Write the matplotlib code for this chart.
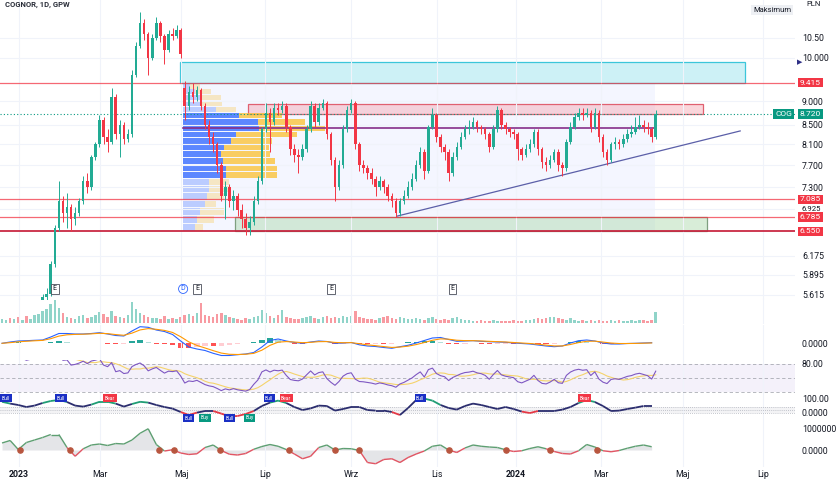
import numpy as np
import pandas as pd
import matplotlib
matplotlib.use("Agg")
import matplotlib.pyplot as plt
from matplotlib import transforms
from matplotlib.collections import LineCollection
from matplotlib.colors import to_rgba
from matplotlib.patches import Rectangle
from matplotlib.ticker import NullLocator

# ---------------- data (one bar ~ two sessions) ----------------
opens = [
    5.10, 5.15, 5.20, 5.18, 5.25, 5.22, 5.30, 5.28, 5.35, 5.40,
    5.45, 5.58, 5.62, 6.05, 6.60, 7.05, 6.85, 6.95, 6.75, 6.85,
    7.05, 7.40, 7.30, 7.85, 8.10, 8.60, 8.25, 8.15, 9.10, 8.30,
    8.50, 8.20, 8.30, 9.60, 10.30, 10.90, 10.60, 10.00, 10.50, 10.90,
    10.55, 10.20, 10.60, 10.55, 10.70, 9.30, 8.90, 9.20, 9.10, 9.25,
    8.90, 8.50, 8.25, 8.10, 7.70, 7.15, 7.30, 7.05, 7.15, 6.90,
    6.75, 6.60, 6.70, 7.05, 7.40, 8.40, 8.75, 8.55, 8.85, 8.80,
    8.90, 8.45, 8.00, 7.90, 7.85, 8.00, 8.40, 8.90, 8.55, 8.85,
    8.95, 8.30, 7.80, 7.30, 7.70, 8.40, 8.80, 8.95, 8.10, 7.70,
    7.65, 7.55, 7.45, 7.30, 7.40, 7.30, 7.15, 7.05, 6.85, 7.05,
    7.15, 7.30, 7.45, 7.70, 7.95, 7.60, 8.45, 8.70, 8.25, 8.05,
    7.95, 7.55, 7.85, 8.05, 8.25, 8.40, 8.45, 8.55, 8.45, 8.40,
    8.30, 8.05, 8.40, 8.80, 8.50, 8.40, 8.35, 8.30, 8.00, 7.90,
    8.00, 8.10, 8.35, 8.00, 7.75, 7.70, 7.80, 7.95, 7.70, 7.65,
    8.15, 8.45, 8.65, 8.75, 8.70, 8.75, 8.45, 8.75, 8.25, 7.95,
    7.80, 8.10, 8.15, 8.10, 8.20, 8.30, 8.35, 8.45, 8.50, 8.45,
    8.40, 8.25,
]
closes = [
    5.15, 5.20, 5.18, 5.25, 5.22, 5.30, 5.28, 5.35, 5.40, 5.45,
    5.58, 5.62, 6.05, 6.60, 7.05, 6.85, 6.95, 6.75, 6.85, 7.05,
    7.40, 7.30, 7.85, 8.10, 8.60, 8.25, 8.15, 9.10, 8.30, 8.50,
    8.20, 8.30, 9.60, 10.30, 10.90, 10.60, 10.00, 10.50, 10.90, 10.55,
    10.20, 10.60, 10.55, 10.70, 10.10, 8.90, 9.20, 9.10, 9.25, 8.90,
    8.50, 8.25, 8.10, 7.70, 7.15, 7.30, 7.05, 7.15, 6.90, 6.75,
    6.60, 6.70, 7.05, 7.40, 8.40, 8.75, 8.55, 8.85, 8.80, 8.90,
    8.45, 8.00, 7.90, 7.85, 8.00, 8.40, 8.90, 8.55, 8.85, 8.95,
    8.30, 7.80, 7.30, 7.70, 8.40, 8.80, 8.95, 8.10, 7.70, 7.65,
    7.55, 7.45, 7.30, 7.40, 7.30, 7.15, 7.05, 6.85, 7.05, 7.15,
    7.30, 7.45, 7.70, 7.95, 7.60, 8.45, 8.70, 8.25, 8.05, 7.95,
    7.55, 7.85, 8.05, 8.25, 8.40, 8.45, 8.55, 8.45, 8.40, 8.30,
    8.05, 8.40, 8.80, 8.50, 8.40, 8.35, 8.30, 8.00, 7.90, 8.00,
    8.10, 8.35, 8.00, 7.75, 7.70, 7.80, 7.95, 7.70, 7.65, 8.15,
    8.45, 8.65, 8.75, 8.70, 8.75, 8.45, 8.75, 8.25, 7.95, 7.80,
    8.10, 8.15, 8.10, 8.20, 8.30, 8.35, 8.45, 8.50, 8.45, 8.40,
    8.25, 8.72,
]
highs = [
    5.22, 5.25, 5.26, 5.30, 5.30, 5.35, 5.36, 5.40, 5.46, 5.52,
    5.62, 5.70, 6.10, 6.65, 7.40, 7.15, 7.20, 7.00, 6.95, 7.10,
    7.50, 7.55, 7.90, 8.15, 8.70, 8.65, 8.40, 9.30, 9.15, 8.60,
    8.55, 8.40, 9.70, 10.40, 11.20, 11.00, 10.65, 10.60, 11.05, 10.95,
    10.60, 10.70, 10.75, 10.85, 10.75, 9.45, 9.35, 9.40, 9.35, 9.30,
    8.95, 8.60, 8.35, 8.15, 7.75, 7.40, 7.35, 7.25, 7.20, 7.00,
    6.85, 6.80, 7.15, 7.50, 8.45, 8.95, 8.85, 8.95, 8.95, 9.00,
    8.95, 8.50, 8.10, 8.00, 8.10, 8.50, 9.00, 8.95, 8.95, 9.05,
    9.00, 8.35, 7.85, 7.80, 8.50, 8.90, 9.05, 9.00, 8.15, 7.80,
    7.70, 7.65, 7.50, 7.50, 7.45, 7.35, 7.20, 7.10, 7.10, 7.25,
    7.40, 7.55, 7.80, 8.05, 8.00, 8.50, 8.85, 8.75, 8.30, 8.10,
    8.00, 7.95, 8.15, 8.35, 8.50, 8.60, 8.65, 8.60, 8.50, 8.45,
    8.35, 8.50, 8.90, 8.85, 8.55, 8.45, 8.40, 8.35, 8.05, 8.10,
    8.20, 8.40, 8.40, 8.05, 7.85, 7.90, 8.00, 8.00, 7.75, 8.20,
    8.55, 8.75, 8.85, 8.85, 8.85, 8.80, 8.85, 8.80, 8.30, 8.00,
    8.15, 8.25, 8.20, 8.30, 8.40, 8.50, 8.65, 8.70, 8.60, 8.55,
    8.45, 8.80,
]
lows = [
    5.05, 5.10, 5.12, 5.15, 5.18, 5.20, 5.22, 5.25, 5.32, 5.36,
    5.42, 5.52, 5.60, 6.00, 6.55, 6.70, 6.60, 6.55, 6.65, 6.80,
    7.00, 7.20, 7.25, 7.80, 8.05, 8.10, 7.95, 8.10, 8.20, 7.85,
    8.10, 8.15, 8.25, 9.55, 10.25, 10.45, 9.60, 9.95, 10.45, 10.40,
    9.85, 10.15, 10.45, 10.50, 10.00, 8.60, 8.80, 8.95, 9.00, 8.80,
    8.40, 8.10, 7.95, 7.55, 7.05, 6.75, 6.95, 6.90, 6.80, 6.60,
    6.50, 6.50, 6.65, 7.00, 7.35, 8.35, 7.95, 8.50, 8.70, 8.75,
    8.35, 7.90, 7.75, 7.55, 7.80, 7.95, 8.35, 8.45, 8.50, 8.80,
    8.20, 7.70, 7.05, 7.25, 7.65, 8.35, 8.75, 8.00, 7.60, 7.55,
    7.45, 7.35, 7.15, 7.25, 7.20, 7.05, 6.95, 6.78, 6.80, 7.00,
    7.10, 7.25, 7.40, 7.65, 7.45, 7.55, 8.40, 8.15, 7.95, 7.80,
    7.40, 7.50, 7.80, 8.00, 8.20, 8.30, 8.40, 8.35, 8.30, 8.20,
    7.95, 8.00, 8.35, 8.40, 8.30, 8.25, 8.20, 7.80, 7.80, 7.85,
    7.95, 8.05, 7.90, 7.65, 7.60, 7.65, 7.75, 7.60, 7.50, 7.60,
    8.10, 8.40, 8.60, 8.60, 8.65, 8.35, 8.40, 8.15, 7.85, 7.70,
    7.75, 8.00, 8.00, 8.05, 8.15, 8.25, 8.30, 8.40, 8.35, 8.30,
    8.15, 8.20,
]
volume = [  # thousand shares
    80, 60, 100, 80, 120, 60, 140, 80, 160, 180,
    240, 280, 380, 460, 300, 200, 120, 100, 80, 140,
    160, 100, 120, 160, 220, 180, 120, 240, 140, 120,
    100, 160, 420, 280, 200, 160, 120, 100, 100, 80,
    140, 80, 100, 80, 120, 160, 180, 140, 200, 400,
    160, 140, 120, 180, 200, 160, 120, 100, 80, 60,
    100, 80, 120, 140, 260, 200, 140, 100, 160, 260,
    120, 100, 80, 80, 100, 120, 140, 100, 80, 120,
    140, 100, 120, 100, 140, 120, 140, 240, 120, 100,
    80, 80, 60, 100, 120, 140, 100, 80, 120, 100,
    80, 80, 100, 80, 60, 100, 120, 80, 60, 80,
    60, 100, 120, 80, 60, 60, 40, 40, 60, 40,
    40, 60, 40, 40, 40, 40, 60, 40, 40, 60,
    60, 80, 100, 80, 100, 120, 120, 100, 80, 60,
    100, 60, 40, 60, 40, 60, 40, 60, 40, 40,
    60, 40, 60, 40, 40, 60, 40, 60, 60, 40,
    60, 220,
]

# oscillators sampled every second bar
macd_line = [
    0.000, 0.026, 0.046, 0.052, 0.060, 0.066, 0.126, 0.196, 0.196, 0.186,
    0.186, 0.196, 0.212, 0.186, 0.156, 0.146, 0.246, 0.332, 0.320, 0.266,
    0.236, 0.176, 0.046, -0.074, -0.114, -0.144, -0.200, -0.244, -0.244, -0.228,
    -0.214, -0.184, -0.074, 0.056, 0.086, 0.046, 0.016, 0.000, 0.026, 0.046,
    0.036, 0.000, 0.006, 0.016, -0.030, -0.054, -0.064, -0.084, -0.100, -0.068,
    -0.040, 0.006, 0.056, 0.106, 0.116, 0.076, 0.040, 0.046, 0.052, 0.040,
    0.032, 0.026, 0.020, 0.006, -0.004, -0.014, -0.034, -0.054, -0.068, -0.054,
    0.006, 0.052, 0.066, 0.046, 0.006, -0.014, -0.014, -0.004, 0.000, 0.006,
    0.012,
]
stoch = [
    81, 72, 65, 55, 62, 75, 85, 90, 80, 62,
    57, 67, 81, 81, 72, 57, 70, 81, 77, 65,
    55, 47, 30, 15, 27, 35, 35, 22, 8, 10,
    20, 35, 60, 77, 87, 75, 55, 40, 48, 62,
    60, 37, 45, 55, 55, 40, 37, 37, 30, 15,
    50, 90, 97, 87, 65, 50, 42, 60, 72, 65,
    55, 45, 55, 45, 32, 25, 35, 35, 35, 42,
    55, 75, 90, 80, 60, 35, 37, 45, 52, 60,
    60,
]
flow_mln = [
    0.28, 0.38, 0.02, 0.30, 0.40, 0.50, 0.62, 0.62, 0.10, -0.25,
    0.05, 0.20, 0.24, 0.18, 0.26, 0.24, 0.40, 0.67, 0.85, 0.22,
    -0.04, 0.01, -0.12, -0.18, -0.15, 0.10, 0.20, -0.02, -0.17, -0.20,
    -0.14, 0.03, 0.14, 0.22, 0.15, 0.02, -0.16, -0.35, -0.25, 0.10,
    0.20, 0.00, 0.06, 0.05, -0.02, -0.50, -0.55, -0.38, -0.35, -0.50,
    -0.30, -0.16, -0.04, 0.15, 0.20, 0.00, -0.10, 0.08, 0.20, 0.15,
    0.12, 0.10, 0.01, -0.06, -0.03, 0.06, 0.13, 0.05, -0.06, -0.14,
    -0.16, -0.03, 0.22, 0.12, -0.03, -0.07, -0.02, 0.07, 0.15, 0.20,
    0.13,
]
flow_cross_bars = [4.4, 16.7, 38.7, 42.4, 53.7, 70.7, 82.0, 87.9, 110.1, 124.1, 135.0, 146.6]
stoch_labels = [
    (1, 100, "Bull", "#1a2fc4"), (14.5, 100, "Bull", "#1a2fc4"), (26.6, 100, "Bear", "#f23645"),
    (46, 0, "Bull", "#1a2fc4"), (50, 0, "Buy", "#089981"), (56, 0, "Bull", "#1a2fc4"),
    (61, 0, "Buy", "#089981"), (65.8, 100, "Bull", "#1a2fc4"), (70, 100, "Bear", "#f23645"),
    (103, 100, "Bull", "#1a2fc4"), (143.4, 100, "Bear", "#f23645"),
]

# volume profile rows (bottom -> top), fixed range
vp_low, vp_high = 6.55, 9.40
vp_start_bar, vp_end_bar = 44.6, 160.8
vp_up = [12, 14, 17, 21, 23, 25, 25, 42, 42, 39, 37, 40, 47, 52, 75, 74, 55, 32, 19, 17, 12, 7]
vp_down = [8, 16, 23, 11, 17, 20, 20, 50, 50, 51, 48, 44, 40, 60, 64, 46, 42, 20, 19, 20, 15, 10]

# drawn levels / objects
red_levels = [9.415, 7.085, 6.785, 6.550]
supply_zone = (43.8, 183.0, 9.415, 9.90)
resist_zone = (60.6, 172.7, 8.72, 8.93)
demand_zone = (57.4, 173.6, 6.55, 6.785)
trend_pts = ((97.3, 6.80), (181.8, 8.37))
earnings_bars = [13, 48, 81, 111]
dividend_bars = [44.6]

price_ticks = [10.50, 10.0, 9.0, 8.5, 8.1, 7.7, 7.3, 6.925, 6.175, 5.895, 5.615]
price_tick_labels = ["10.50", "10.000", "9.000", "8.500", "8.100", "7.700", "7.300",
                     "6.925", "6.175", "5.895", "5.615"]
time_labels = ["2023", "Mar", "Maj", "Lip", "Wrz", "Lis", "2024", "Mar", "Maj", "Lip"]
time_tick_bars = [4.2, 24.1, 44.1, 64.8, 86.0, 107.1, 126.6, 147.5, 167.7, 187.4]

# ---------------- style ----------------
UP = "#22ab94"
DOWN = "#f23645"
TEXT = "#131722"
GRID = "#f0f3fa"
W, H = 840, 480
PLOT_RIGHT = 795

plt.rcParams["font.family"] = ["Roboto", "DejaVu Sans"]

fig = plt.figure(figsize=(8.4, 4.8), dpi=100)


def pane(top, bottom, share=None):
    ax = fig.add_axes([0, 1 - bottom / H, PLOT_RIGHT / W, (bottom - top) / H], sharex=share)
    ax.set_facecolor("none")
    for s in ax.spines.values():
        s.set_visible(False)
    ax.yaxis.tick_right()
    ax.tick_params(length=0, labelsize=6.3, labelcolor=TEXT, pad=5)
    ax.tick_params(axis="x", labelbottom=False)
    ax.grid(axis="x", color=GRID, lw=0.8)
    return ax


def tag(ax, y, text, fc, x_px=800):
    trans = transforms.blended_transform_factory(ax.transAxes, ax.transData)
    ax.text(x_px / PLOT_RIGHT, y, text, transform=trans, ha="left", va="center",
            fontsize=6.0, color="white", clip_on=False, zorder=10,
            bbox=dict(boxstyle="square,pad=0.2", fc=fc, ec="none"))


o = np.array(opens)
c = np.array(closes)
hi = np.array(highs)
lo = np.array(lows)
x = np.arange(len(c))
is_up = c >= o
bar_colors = np.where(is_up, UP, DOWN)
osc_x = np.arange(0, len(c), 2)

# ---------------- price pane ----------------
ax = pane(0, 300)
ax.set_yscale("log")
ax.set_xlim(-0.5, 195.3)
ax.set_ylim(5.542, 11.519)
ax.set_xticks(time_tick_bars)
ax.yaxis.set_minor_locator(NullLocator())
ax.set_yticks(price_ticks)
ax.set_yticklabels(price_tick_labels)
ax.grid(axis="y", color=GRID, lw=0.8)
for lab in ax.get_yticklabels():
    if lab.get_text() == "6.925":
        lab.set_fontsize(5.6)

# zones
for (x0, x1, y0, y1), fc, ec, a in [
    (supply_zone, "#a5e6ef", "#3cc6da", 0.55),
    (resist_zone, "#f4a6b0", "#e06070", 0.45),
    (demand_zone, "#a9d8a9", "#7f9f80", 0.45),
]:
    ax.add_patch(Rectangle((x0, y0), x1 - x0, y1 - y0, fc=to_rgba(fc, a), ec=ec, lw=0.9, zorder=1))

# fixed-range volume profile
ax.add_patch(Rectangle((vp_start_bar, vp_low), vp_end_bar - vp_start_bar, vp_high - vp_low,
                       fc=to_rgba("#2962ff", 0.05), ec="none", zorder=0.5))
up_v = np.array(vp_up, float)
dn_v = np.array(vp_down, float)
tot = up_v + dn_v
poc = int(np.argmax(tot))
va_lo = va_hi = poc
acc = tot[poc]
while acc < 0.7 * tot.sum():
    nxt_up = tot[va_hi + 1] if va_hi + 1 < len(tot) else -1
    nxt_dn = tot[va_lo - 1] if va_lo - 1 >= 0 else -1
    if nxt_up >= nxt_dn:
        va_hi += 1
        acc += nxt_up
    else:
        va_lo -= 1
        acc += nxt_dn
edges = np.linspace(vp_low, vp_high, len(tot) + 1)
row_h = edges[1] - edges[0]
scale = 0.30 * (vp_end_bar - vp_start_bar) / tot.max()
in_va = (np.arange(len(tot)) >= va_lo) & (np.arange(len(tot)) <= va_hi)
alpha = np.where(in_va, 0.75, 0.28)
for k in range(len(tot)):
    ax.barh(edges[k] + 0.06 * row_h, up_v[k] * scale, height=0.88 * row_h, left=vp_start_bar,
            align="edge", color=to_rgba("#2962ff", alpha[k]), zorder=1.5)
    ax.barh(edges[k] + 0.06 * row_h, dn_v[k] * scale, height=0.88 * row_h,
            left=vp_start_bar + up_v[k] * scale, align="edge",
            color=to_rgba("#fbc02d", alpha[k]), zorder=1.5)
poc_price = edges[poc] + row_h / 2
ax.plot([vp_start_bar, vp_end_bar], [poc_price, poc_price], color="#862e8a", lw=1.2, zorder=2.5)

# horizontal levels
for lv in red_levels:
    strong = lv == min(red_levels)
    ax.axhline(lv, color="#c8233e" if strong else DOWN, lw=1.4 if strong else 0.9,
               alpha=0.9 if strong else 0.75, zorder=2)
ax.axhline(c[-1], color="#089981", lw=0.8, ls=(0, (1, 2)), zorder=2)
(tx0, ty0), (tx1, ty1) = trend_pts
ax.plot([tx0, tx1], [ty0, ty1], color="#5b5fa8", lw=0.9, zorder=2.5)

# candles
ax.vlines(x, lo, hi, colors=bar_colors, lw=0.7, zorder=3)
ax.bar(x, np.maximum(np.abs(c - o), 0.012), bottom=np.minimum(o, c), width=0.62,
       color=bar_colors, zorder=3.2)

# price tags
for lv in red_levels:
    tag(ax, lv, f"{lv:.3f}", DOWN)
tag(ax, c[-1], f"{c[-1]:.3f}", "#089981")
tag(ax, c[-1], "COG", "#089981", x_px=775)
trans_r = transforms.blended_transform_factory(ax.transAxes, ax.transData)
ax.text(797 / PLOT_RIGHT, supply_zone[3], "\u25B6", transform=trans_r, fontsize=5,
        color="#2e2f86", va="center", ha="left", clip_on=False,
        family=["DejaVu Sans"])

# earnings / dividend markers
trans_b = transforms.blended_transform_factory(ax.transData, ax.transAxes)
for b in earnings_bars:
    ax.text(b, 0.037, "E", transform=trans_b, fontsize=5, ha="center", va="center",
            color=TEXT, zorder=6,
            bbox=dict(boxstyle="square,pad=0.25", fc="white", ec="#4a4e5a", lw=0.6))
for b in dividend_bars:
    ax.text(b, 0.037, "D", transform=trans_b, fontsize=5, ha="center", va="center",
            color="#2962ff", zorder=6,
            bbox=dict(boxstyle="circle,pad=0.15", fc="white", ec="#2962ff", lw=0.6))

# ---------------- volume pane ----------------
axv = pane(298, 324, ax)
axv.bar(x, volume, width=0.62, color=[to_rgba(col, 0.5) for col in bar_colors])
axv.set_ylim(-20, 500)
axv.set_yticks([])

# ---------------- MACD pane ----------------
axm = pane(325, 360, ax)
macd = pd.Series(macd_line)
signal = macd.ewm(span=3, adjust=False).mean()
hist = macd - signal
rising = hist.diff().fillna(0) >= 0
hcol = [("#26a69a" if r else "#b2dfdb") if h >= 0 else ("#ffcdd2" if r else "#ff5252")
        for h, r in zip(hist, rising)]
axm.bar(osc_x, hist, width=1.3, color=hcol)
axm.plot(osc_x, macd, color="#2962ff", lw=0.8)
axm.plot(osc_x, signal, color="#ff9800", lw=0.8)
axm.set_ylim(-0.334, 0.366)
axm.set_yticks([0])
axm.set_yticklabels(["0.0000"])

# ---------------- RSI pane ----------------
axr = pane(360, 396, ax)
delta = pd.Series(closes).diff()
gain = delta.clip(lower=0).ewm(alpha=1 / 9, adjust=False).mean()
loss = (-delta.clip(upper=0)).ewm(alpha=1 / 9, adjust=False).mean()
rsi = 100 - 100 / (1 + gain / loss)
rsi_ma = rsi.rolling(7).mean()
axr.axhspan(20, 80, color="#7e57c2", alpha=0.08, lw=0)
for lv in (80, 50, 20):
    axr.axhline(lv, color="#9598a1", lw=0.6, ls=(0, (4, 3)), alpha=0.8)
axr.plot(x, rsi_ma, color="#f5d36b", lw=0.8)
axr.plot(x, rsi, color="#7e57c2", lw=0.8)
axr.set_ylim(11.6, 87.4)
axr.set_yticks([80])
axr.set_yticklabels(["80.00"])

# ---------------- oscillator pane ----------------
axs = pane(396, 420, ax)
st = np.array(stoch, float)
axs.axhspan(25, 55, color="#b2b5be", alpha=0.15, lw=0)
for lv in (55, 40, 25):
    axs.axhline(lv, color="#b2b5be", lw=0.6, ls=(0, (1, 1.5)))
segs = [[(osc_x[i], st[i]), (osc_x[i + 1], st[i + 1])] for i in range(len(st) - 1)]
seg_mean = (st[:-1] + st[1:]) / 2
seg_col = ["#1f9d74" if m >= 72 else ("#e53945" if m <= 30 else "#2b2d6e") for m in seg_mean]
axs.add_collection(LineCollection(segs, colors=seg_col, lw=1.3))
for b, v, txt, col in stoch_labels:
    axs.text(b, v, txt, fontsize=3.6, color="white", ha="center", va="center", zorder=6,
             bbox=dict(boxstyle="square,pad=0.3", fc=col, ec="none"))
axs.set_ylim(-10, 110)
axs.set_yticks([0, 100])
axs.set_yticklabels(["0.0000", "100.00"])
axs.get_yticklabels()[0].set_verticalalignment("bottom")

# ---------------- volume flow pane ----------------
axf = pane(420, 467, ax)
fl = np.array(flow_mln) * 1e6
axf.fill_between(osc_x, fl, 0, color="#b2b5be", alpha=0.35, lw=0)
fsegs = [[(osc_x[i], fl[i]), (osc_x[i + 1], fl[i + 1])] for i in range(len(fl) - 1)]
fcol = ["#5e9f72" if (fl[i] + fl[i + 1]) >= 0 else "#e25563" for i in range(len(fl) - 1)]
axf.add_collection(LineCollection(fsegs, colors=fcol, lw=1.0))
axf.scatter(flow_cross_bars, np.zeros(len(flow_cross_bars)), s=14, color="#b8563f", zorder=5)
axf.set_ylim(-0.68e6, 1.2e6)
axf.set_yticks([0, 1e6])
axf.set_yticklabels(["0.0000", "1000000"])
axf.get_yticklabels()[1].set_verticalalignment("top")
axf.tick_params(axis="x", labelbottom=True, pad=2)
axf.set_xticklabels(time_labels)
for lab in axf.get_xticklabels():
    if lab.get_text().isdigit():
        lab.set_fontweight("bold")

# ---------------- header texts ----------------
fig.text(5 / W, 1 - 4 / H, "COGNOR, 1D, GPW", fontsize=5.5, fontweight="bold",
         color="#2a2e39", va="center", ha="left")
fig.text(806 / W, 1 - 4 / H, "PLN", fontsize=5.5, color=TEXT, va="center", ha="left")
fig.text(753 / W, 1 - 10 / H, "Maksimum", fontsize=5.5, color=TEXT, va="center", ha="left",
         bbox=dict(boxstyle="square,pad=0.3", fc="#eef0f4", ec="none"))

fig.savefig("out.png", dpi=100)
